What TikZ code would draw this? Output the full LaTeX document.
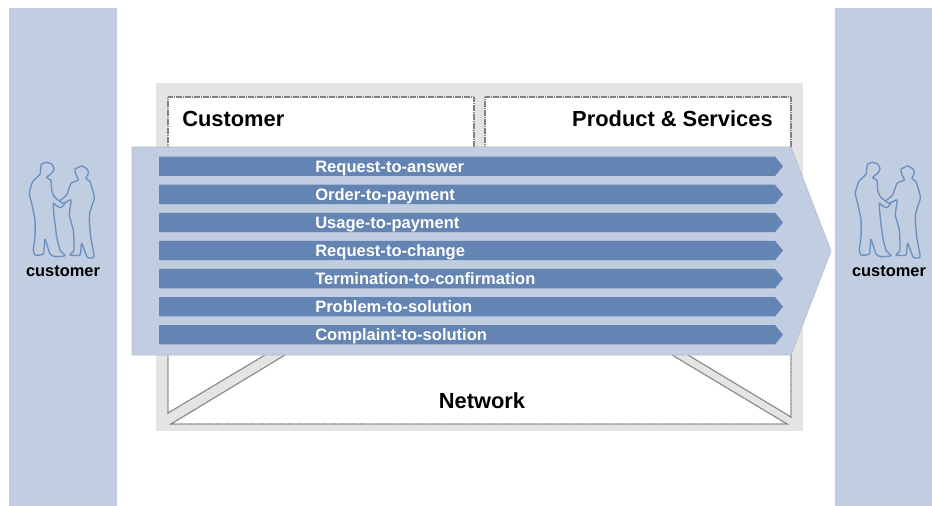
\documentclass[tikz,border=0pt]{standalone}
\usepackage{fontspec}
\setmainfont{Liberation Sans}
\definecolor{panelblue}{HTML}{C1CDE0}
\definecolor{barblue}{HTML}{6484B3}
\definecolor{figureblue}{HTML}{6C90C0}
\definecolor{framegray}{HTML}{E4E4E4}
\definecolor{dashgray}{HTML}{808080}
\tikzset{
	domainbox/.style = {draw = dashgray, fill = white, dash pattern = on 1pt off 0.35pt, line width = 0.9pt},
	titletext/.style = {font = \fontsize{16.4}{18}\bfseries, inner sep = 0pt},
	bartext/.style = {font = \fontsize{12.4}{15}\bfseries, text = white, anchor = base west, inner sep = 0pt},
	customertext/.style = {font = \fontsize{12.3}{14}\bfseries, inner sep = 0pt},
	figureline/.style = {draw = figureblue, line width = 1pt, line join = round}
}

\begin{document}
\begin{tikzpicture}[x = 0.75pt, y = -0.75pt]
	\useasboundingbox (0, 0) rectangle (932, 506);
	\fill [panelblue] (9, 8) rectangle (117, 506);
	\fill [panelblue] (835, 8) rectangle (932, 506);
	\fill [framegray] (156, 83) rectangle (803, 431);
	\draw [domainbox] (168, 147) -- (168, 97) -- (474, 97) -- (474, 147);
	\draw [domainbox] (485, 147) -- (485, 97) -- (791, 97) -- (791, 147);
	\draw [domainbox] (168, 355) -- (168, 413) -- (265, 355);
	\draw [domainbox] (791, 355) -- (791, 417) -- (688, 355);
	\draw [domainbox] (285, 355) -- (171, 424) -- (787, 424) -- (672, 355);
	\node [titletext, anchor = west] (customerlabel) at (182, 119) {Customer};
	\node [titletext, anchor = east] (productlabel) at (773, 119) {Product \& Services};
	\node [titletext] (networklabel) at (482, 401) {Network};
	\draw [panelblue!85!gray, fill = panelblue, line width = 0.6pt] (132, 147) -- (791, 147) -- (831, 251) -- (791, 355) -- (132, 355) -- cycle;
	\foreach \name [count = \i from 0] in {Request-to-answer, Order-to-payment, Usage-to-payment, Request-to-change, Termination-to-confirmation, Problem-to-solution, Complaint-to-solution} {
		\pgfmathsetmacro{\ymid}{166.3 + 28.08 * \i}
		\fill [barblue] (159, \ymid - 9.7) -- (775, \ymid - 9.7) -- (783, \ymid) -- (775, \ymid + 9.7) -- (159, \ymid + 9.7) -- cycle;
		\node [bartext] (bar\i) at (315, \ymid + 6) {\name};
	}
	\foreach \dx/\side in {0/left, 826/right} {
		\begin{scope}[shift = {(\dx, 140)}, x = 0.25pt, y = -0.25pt]
			\draw [figureline] plot [smooth, tension = 0.3] coordinates {(178, 183) (163, 170) (155, 150) (153, 122) (140, 112) (150, 104) (157, 98) (162, 85) (155, 72) (140, 67) (125, 72) (122, 85) (120, 103) (98, 125) (88, 160) (95, 190) (105, 240) (105, 290) (100, 330) (105, 345) (130, 342) (135, 298) (150, 342) (165, 350) (195, 347) (180, 330) (170, 290) (162, 225) (160, 190) (170, 198) (183, 203) (195, 190)};
			\draw [figureline] plot [smooth, tension = 0.3] coordinates {(178, 183) (200, 165) (213, 130) (235, 120) (228, 105) (225, 88) (245, 78) (262, 88) (265, 100) (258, 115) (270, 125) (278, 150) (283, 175) (270, 215) (268, 240) (272, 290) (282, 350) (262, 352) (245, 310) (240, 345) (210, 345) (222, 330) (220, 270) (208, 225) (213, 180) (190, 190) (178, 183)};
		\end{scope}
		\node [customertext] (customer\side) at (63 + \dx, 271) {customer};
	}
\end{tikzpicture}
\end{document}
